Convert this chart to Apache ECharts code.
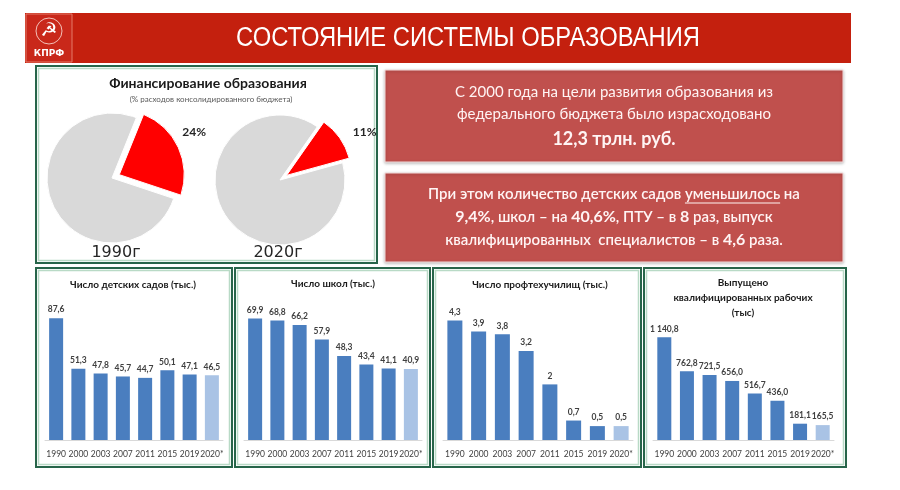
<!DOCTYPE html>
<html><head><meta charset="utf-8">
<script src="https://cdn.jsdelivr.net/npm/echarts@6/dist/echarts.min.js"></script>
<style>html,body{margin:0;padding:0;background:#fff}#c{width:900px;height:490px}</style>
</head><body><div id="c"></div>
<script>
// ---- data ----
const years = ['1990','2000','2003','2007','2011','2015','2019','2020*'];
const kindergartens = [87.6,51.3,47.8,45.7,44.7,50.1,47.1,46.5];
const schools = [69.9,68.8,66.2,57.9,48.3,43.4,41.1,40.9];
const vocational = [4.3,3.9,3.8,3.2,2,0.7,0.5,0.5];
const graduates = [1140.8,762.8,721.5,656.0,516.7,436.0,181.1,165.5];
const fundingYears = ['1990г','2020г'];
const fundingShare = [24, 11];
const panelTitles = [
  ['Число детских садов (тыс.)'],
  ['Число школ (тыс.)'],
  ['Число профтехучилищ (тыс.)'],
  ['Выпущено','квалифицированных рабочих','(тыс)']
];

const BLUE = '#4a7ebf', LIGHT = '#a9c3e5';
const FONT = 'Lato, "Open Sans", "DejaVu Sans", sans-serif';

function fmtSimple(v){ return String(v).replace('.', ','); }
function fmtThousands(v){
  const s = v.toFixed(1).split('.');
  return s[0].replace(/\B(?=(\d{3})+(?!\d))/g, ' ') + ',' + s[1];
}

const panels = [
  {data: kindergartens, max: 100, fmt: fmtSimple, grid:{left:45, top:301, width:178, height:139}, bw:14, frame:[36,268,196,199], tx:133, ty:285},
  {data: schools, max: 80, fmt: fmtSimple, grid:{left:244, top:301, width:178, height:139}, bw:14, frame:[235,268,195,199], tx:333, ty:284},
  {data: vocational, max: 5, fmt: fmtSimple, grid:{left:443, top:301, width:190, height:139}, bw:15, frame:[433,268,208,199], tx:540, ty:285},
  {data: graduates, max: 1400, fmt: fmtThousands, grid:{left:653, top:314, width:181, height:126}, bw:14, frame:[644,268,202,199], tx:743, ty:283}
];

const grids = [], xAxes = [], yAxes = [], series = [], graphics = [];

// Header
graphics.push({type:'rect', shape:{x:25,y:13,width:826,height:50}, style:{fill:'#c4200e'}, z:1});
graphics.push({type:'rect', shape:{x:26,y:14,width:46,height:48}, style:{fill:'#c9281a', stroke:'#e47a68', lineWidth:1}, z:2});
graphics.push({type:'circle', shape:{cx:49,cy:31,r:13}, style:{fill:'none', stroke:'#f3c0b8', lineWidth:1}, z:3});
graphics.push({type:'text', style:{text:'☭', x:49, y:31, align:'center', verticalAlign:'middle', font:'19px "DejaVu Sans"', fill:'#ffffff'}, z:3});
graphics.push({type:'text', style:{text:'КПРФ', x:49, y:54, align:'center', verticalAlign:'middle', font:'bold 9px "DejaVu Sans"', fill:'#ffffff'}, z:3});
graphics.push({type:'text', x:468, y:39, scaleX:0.88, style:{text:'СОСТОЯНИЕ СИСТЕМЫ ОБРАЗОВАНИЯ', x:0, y:0, align:'center', verticalAlign:'middle', font:'27px "Liberation Sans Narrow", "Liberation Sans", sans-serif', fill:'#ffffff'}, z:3});

// Frames (double green line)
function frame(x,y,w,h){
  graphics.push({type:'rect', shape:{x:x,y:y,width:w,height:h}, style:{fill:'none', stroke:'#27654a', lineWidth:2}, z:1});
  graphics.push({type:'rect', shape:{x:x+2.5,y:y+2.5,width:w-5,height:h-5}, style:{fill:'none', stroke:'#b9dac6', lineWidth:1.5}, z:1});
}
frame(36,66,341,197);
panels.forEach(p => frame.apply(null, p.frame));

// Pie panel titles
graphics.push({type:'text', style:{text:'Финансирование образования', x:208, y:83, align:'center', verticalAlign:'middle', font:'bold 14px '+FONT, fill:'#1a1a1a'}, z:3});
graphics.push({type:'text', style:{text:'(% расходов консолидированного бюджета)', x:211, y:99, align:'center', verticalAlign:'middle', font:'8px '+FONT, fill:'#595959'}, z:3});

// Pies
const pieCenters = [[112,178],[280,180]];
const pieStarts = [68, 55];
fundingShare.forEach((v,i) => {
  series.push({
    type:'pie', center:pieCenters[i], radius:65, startAngle:pieStarts[i], clockwise:true,
    selectedMode:'single', selectedOffset:8, animation:false, silent:true,
    emphasis:{disabled:true},
    label:{show:false},
    labelLine:{show:false, length:10, length2:0},
    labelLayout: i===0 ? {dx:-10, dy:-11} : undefined,
    data:[
      {value:v, selected:true, itemStyle:{color:'#ff0000', borderColor:'#ffffff', borderWidth:1},
       label:{show:true, position:'outside', formatter:'{c}%', fontFamily:FONT, fontWeight:'bold', fontSize:12, color:'#262626'}},
      {value:100-v, itemStyle:{color:'#d9d9d9', borderColor:'#ffffff', borderWidth:1}}
    ]
  });
  graphics.push({type:'text', style:{text:fundingYears[i], x:[116,278][i], y:253, align:'center', verticalAlign:'middle', font:'16px "DejaVu Sans", sans-serif', fill:'#262626'}, z:5});
});

// Red info boxes
graphics.push({type:'rect', shape:{x:385,y:70,width:458,height:92}, style:{fill:'#c0504d', stroke:'#f4dcdc', lineWidth:1, shadowBlur:3, shadowColor:'rgba(0,0,0,0.25)', shadowOffsetY:1}, z:1});
graphics.push({type:'rect', shape:{x:385,y:173,width:458,height:89}, style:{fill:'#c0504d', stroke:'#f4dcdc', lineWidth:1, shadowBlur:3, shadowColor:'rgba(0,0,0,0.25)', shadowOffsetY:1}, z:1});
const TXT = '#fff4f4';
const CX = 614;
function line(text, y, rich, base){
  graphics.push({type:'text', style:Object.assign({text:text, x:CX, y:y, align:'center', verticalAlign:'middle', fill:TXT, rich:rich||{}}, base), z:4});
}
line('С 2000 года на цели развития образования из', 92, null, {font:'15px '+FONT});
line('федерального бюджета было израсходовано', 114, null, {font:'15px '+FONT});
line('12,3 трлн. руб.', 139, null, {font:'bold 18px '+FONT});

const richB = {
  n:{fontFamily:FONT, fontSize:15, fontWeight:600, fill:TXT},
  b:{fontFamily:FONT, fontSize:16, fontWeight:'bold', fill:TXT}
};
const pre = 'При этом количество детских садов ', und = 'уменьшилось', post = ' на';
line('{n|'+pre+'}{n|'+und+'}{n|'+post+'}', 194, richB, {fontFamily:FONT, fontSize:15});
line('{b|9,4%}{n|, школ – на }{b|40,6%}{n|, ПТУ – в }{b|8}{n| раз, выпуск}', 217, richB, {fontFamily:FONT, fontSize:15});
line('{n|квалифицированных  специалистов – в }{b|4,6}{n| раза.}', 240, richB, {fontFamily:FONT, fontSize:15});
// underline under "уменьшилось"
(function(){
  const ctx = document.createElement('canvas').getContext('2d');
  ctx.font = '600 15px ' + FONT;
  const wPre = ctx.measureText(pre).width, wU = ctx.measureText(und).width, wAll = ctx.measureText(pre+und+post).width;
  const x0 = CX - wAll/2 + wPre;
  graphics.push({type:'line', shape:{x1:x0, y1:203, x2:x0+wU, y2:203}, style:{stroke:TXT, lineWidth:1}, z:4});
})();

// Bar panels
panels.forEach((p, i) => {
  grids.push(Object.assign({containLabel:false}, p.grid));
  xAxes.push({type:'category', gridIndex:i, data:years, axisLine:{lineStyle:{color:'#d9d9d9'}}, axisTick:{show:false},
    axisLabel:{interval:0, margin:10, fontSize:8.5, fontFamily:FONT, color:'#404040'}});
  yAxes.push({type:'value', gridIndex:i, min:0, max:p.max, show:false, splitLine:{show:false}});
  series.push({
    type:'bar', xAxisIndex:i, yAxisIndex:i, barWidth:p.bw, animation:false, silent:true,
    data:p.data.map((v,j) => ({value:v, itemStyle:{color: j===p.data.length-1 ? LIGHT : BLUE}})),
    label:{show:true, position:'top', distance:4, formatter:(d)=>p.fmt(d.value), fontFamily:FONT, fontWeight:'bold', fontSize:8.5, color:'#404040'}
  });
  const lines = panelTitles[i];
  lines.forEach((t, k) => {
    graphics.push({type:'text', style:{text:t, x:p.tx, y:p.ty + k*15, align:'center', verticalAlign:'middle', font:'bold 10px '+FONT, fill:'#1a1a1a'}, z:4});
  });
});

const chart = echarts.init(document.getElementById('c'), null, {renderer:'canvas'});
chart.setOption({
  backgroundColor:'#ffffff',
  animation:false,
  grid:grids, xAxis:xAxes, yAxis:yAxes, series:series,
  graphic:{elements:graphics}
});
</script></body></html>
